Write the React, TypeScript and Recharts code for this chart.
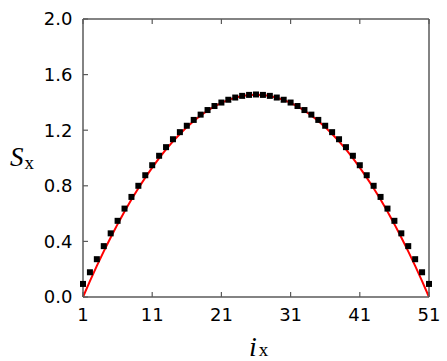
import React from 'react';
import { ComposedChart, Line, Scatter, XAxis, YAxis, Label } from 'recharts';

const indices = [
  1, 2, 3, 4, 5, 6, 7, 8, 9, 10, 11, 12, 13, 14, 15, 16, 17, 18, 19, 20, 21, 22, 23, 24, 25, 26,
  27, 28, 29, 30, 31, 32, 33, 34, 35, 36, 37, 38, 39, 40, 41, 42, 43, 44, 45, 46, 47, 48, 49, 50, 51,
];

const measured = [
  0.094, 0.178, 0.272, 0.366, 0.458, 0.548, 0.636, 0.72, 0.8, 0.876, 0.948, 1.016, 1.078, 1.135,
  1.186, 1.232, 1.274, 1.312, 1.345, 1.374, 1.399, 1.419, 1.435, 1.447, 1.454, 1.457,
  1.454, 1.447, 1.435, 1.419, 1.399, 1.374, 1.345, 1.312, 1.274, 1.232, 1.186, 1.135, 1.078,
  1.016, 0.948, 0.876, 0.8, 0.72, 0.636, 0.548, 0.458, 0.366, 0.272, 0.178, 0.094,
];

const fitted = [
  0, 0.114, 0.224, 0.328, 0.428, 0.524, 0.615, 0.701, 0.782, 0.859, 0.931, 0.999, 1.062, 1.12,
  1.173, 1.222, 1.266, 1.306, 1.341, 1.371, 1.397, 1.418, 1.434, 1.446, 1.453, 1.455,
  1.453, 1.446, 1.434, 1.418, 1.397, 1.371, 1.341, 1.306, 1.266, 1.222, 1.173, 1.12, 1.062,
  0.999, 0.931, 0.859, 0.782, 0.701, 0.615, 0.524, 0.428, 0.328, 0.224, 0.114, 0,
];

const xTicks = [1, 11, 21, 31, 41, 51];
const yTicks = [0, 0.4, 0.8, 1.2, 1.6, 2.0];

const data = indices.map((i, k) => ({ i, s: measured[k], fit: fitted[k] }));

const frame = '#5a5a5a';
const tickFont = { fill: '#000', fontSize: 18, fontFamily: 'DejaVu Sans' };

const SquareMark = (props: any) => {
  const { cx, cy } = props;
  if (cx == null || cy == null) return null;
  return <rect x={cx - 3} y={cy - 3} width={6} height={6} fill="#000" />;
};

export default function App() {
  return (
    <div style={{ position: 'absolute', left: 0, top: 0, width: 447, height: 361, background: '#fff' }}>
      <ComposedChart
        width={447}
        height={361}
        data={data}
        margin={{ top: 18, right: 17, bottom: 0, left: 0 }}
      >
        <XAxis
          xAxisId="bottom"
          dataKey="i"
          type="number"
          domain={[1, 51]}
          ticks={xTicks}
          interval={0}
          height={64}
          tickSize={-5}
          tickMargin={16}
          tick={tickFont}
          axisLine={{ stroke: frame, strokeWidth: 1.5 }}
          tickLine={{ stroke: frame, strokeWidth: 1.2 }}
        >
          <Label
            content={() => (
              <text x={249} y={356} fill="#000" fontFamily="Liberation Serif">
                <tspan fontStyle="italic" fontSize={28}>i</tspan>
                <tspan fontSize={19} dx={2}>x</tspan>
              </text>
            )}
          />
        </XAxis>
        <XAxis
          xAxisId="top"
          orientation="top"
          dataKey="i"
          type="number"
          domain={[1, 51]}
          ticks={xTicks}
          interval={0}
          height={1}
          tickSize={-5}
          tickFormatter={() => ''}
          axisLine={{ stroke: frame, strokeWidth: 1.5 }}
          tickLine={{ stroke: frame, strokeWidth: 1.2 }}
        />
        <YAxis
          yAxisId="left"
          type="number"
          domain={[0, 2]}
          ticks={yTicks}
          interval={0}
          width={83}
          tickSize={-5}
          tickMargin={15.5}
          tick={tickFont}
          tickFormatter={(v: number) => v.toFixed(1)}
          axisLine={{ stroke: frame, strokeWidth: 1.5 }}
          tickLine={{ stroke: frame, strokeWidth: 1.2 }}
        >
          <Label
            content={() => (
              <text x={10} y={166} fill="#000" fontFamily="Liberation Serif">
                <tspan fontStyle="italic" fontSize={27}>S</tspan>
                <tspan fontSize={19} dx={1} dy={3}>x</tspan>
              </text>
            )}
          />
        </YAxis>
        <YAxis
          yAxisId="right"
          orientation="right"
          type="number"
          domain={[0, 2]}
          ticks={yTicks}
          interval={0}
          width={1}
          tickSize={-5}
          tickFormatter={() => ''}
          axisLine={{ stroke: frame, strokeWidth: 1.5 }}
          tickLine={{ stroke: frame, strokeWidth: 1.2 }}
        />
        <Line
          xAxisId="bottom"
          yAxisId="left"
          dataKey="fit"
          type="linear"
          stroke="#ff0000"
          strokeWidth={2}
          dot={false}
          isAnimationActive={false}
        />
        <Scatter
          xAxisId="bottom"
          yAxisId="left"
          dataKey="s"
          fill="#000"
          shape={SquareMark}
          isAnimationActive={false}
        />
      </ComposedChart>
    </div>
  );
}
